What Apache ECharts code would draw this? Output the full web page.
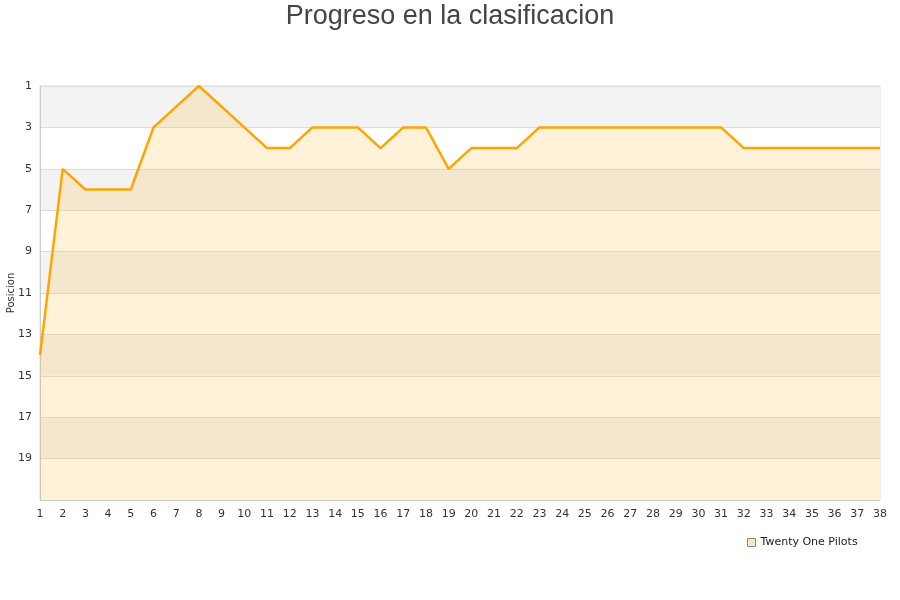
<!DOCTYPE html>
<html>
<head>
<meta charset="utf-8">
<script src="https://cdn.jsdelivr.net/npm/echarts@6/dist/echarts.min.js"></script>
<style>html,body{margin:0;padding:0;background:#fff}#c{width:900px;height:600px}</style>
</head>
<body>
<div id="c"></div>
<script>
const weeks = ['1','2','3','4','5','6','7','8','9','10','11','12','13','14','15','16','17','18','19','20','21','22','23','24','25','26','27','28','29','30','31','32','33','34','35','36','37','38'];
const positions = [14,5,6,6,6,3,2,1,2,3,4,4,3,3,3,4,3,3,5,4,4,4,3,3,3,3,3,3,3,3,3,4,4,4,4,4,4,4];
const seriesName = 'Twenty One Pilots';
const titleText = 'Progreso en la clasificacion';
const yName = 'Posicion';

const chart = echarts.init(document.getElementById('c'));
chart.setOption({
  animation: false,
  title: {
    text: titleText, left: 'center', top: -2,
    textStyle: {fontFamily: 'Liberation Sans', fontSize: 27, fontWeight: 'normal', color: '#444'}
  },
  legend: {
    data: [{name: seriesName, icon: 'rect', itemStyle: {color: '#ffe6bf', borderColor: '#888', borderWidth: 1}}],
    left: 742, top: 532, itemWidth: 8, itemHeight: 8, itemGap: 6,
    textStyle: {fontFamily: 'DejaVu Sans', fontSize: 11, color: '#222'}
  },
  grid: {left: 40, right: 20, top: 86, bottom: 100, outerBoundsMode: 'none', containLabel: false,
    show: true, borderColor: '#ddd', borderWidth: 1, backgroundColor: 'transparent'},
  xAxis: {
    type: 'category', data: weeks, boundaryGap: false,
    axisLine: {show: true, lineStyle: {color: '#ccc'}},
    axisTick: {show: false},
    axisLabel: {fontFamily: 'DejaVu Sans', fontSize: 11, color: '#333', margin: 9, interval: 0}
  },
  yAxis: {
    type: 'value', inverse: true, min: 1, max: 21, interval: 2,
    name: yName, nameLocation: 'middle', nameGap: 24, nameRotate: 90, nameMoveOverlap: false,
    nameTextStyle: {fontFamily: 'DejaVu Sans', fontSize: 10, color: '#333'},
    axisLine: {show: true, lineStyle: {color: '#ccc'}},
    axisTick: {show: false},
    axisLabel: {fontFamily: 'DejaVu Sans', fontSize: 11, color: '#333', margin: 8,
      formatter: v => v === 21 ? '' : String(v)},
    splitLine: {show: true, lineStyle: {color: '#ddd'}},
    splitArea: {show: true, areaStyle: {color: ['#f3f3f3', '#ffffff']}}
  },
  series: [{
    name: seriesName, type: 'line', data: positions,
    symbol: 'none',
    lineStyle: {color: '#ffa500', width: 2.5},
    areaStyle: {color: 'rgba(255,165,0,0.21)', origin: 'end'}
  }]
});
</script>
</body>
</html>
